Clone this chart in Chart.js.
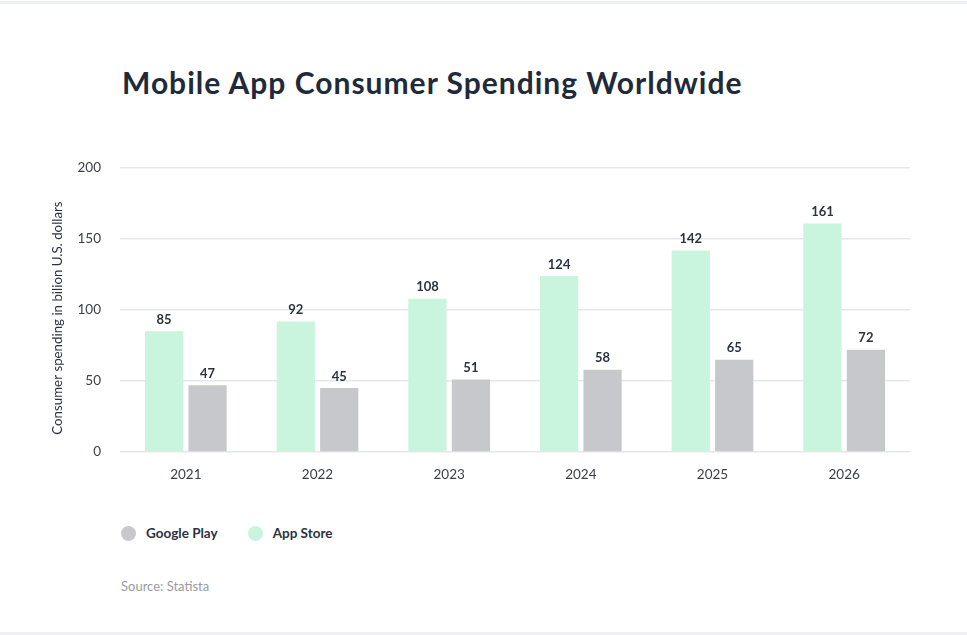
<!DOCTYPE html>
<html>
<head>
<meta charset="utf-8">
<script src="https://cdn.jsdelivr.net/npm/chart.js@4.4.0/dist/chart.umd.min.js"></script>
<style>
  html,body{margin:0;padding:0;background:#fff;}
  body{width:967px;height:635px;position:relative;overflow:hidden;font-family:Lato,"Noto Sans",sans-serif;}
  .topline{position:absolute;left:0;top:1px;width:967px;height:3px;background:#eef0f6;}
  .botline{position:absolute;left:0;top:632px;width:967px;height:3px;background:#eef0f6;}
  h1{position:absolute;left:122px;top:64px;margin:0;font-size:30px;font-weight:700;color:#1f2a3a;letter-spacing:1px;line-height:36px;}
  #wrap{position:absolute;left:0;top:141px;width:967px;height:349px;}
  .legend{position:absolute;top:525px;left:121px;display:flex;align-items:center;font-size:13.5px;font-weight:700;color:#2b3340;}
  .legend .item{display:flex;align-items:center;margin-right:30px;}
  .legend .dot{width:15px;height:15px;border-radius:50%;margin-right:10px;}
  .source{position:absolute;left:121px;top:578px;font-size:13px;color:#9a9ca0;}
</style>
</head>
<body>
<div class="topline"></div>
<h1>Mobile App Consumer Spending Worldwide</h1>
<div id="wrap"><canvas id="c" width="967" height="349"></canvas></div>
<div class="legend" id="legend"></div>
<div class="source">Source: Statista</div>
<div class="botline"></div>
<script>
const categories = ["2021","2022","2023","2024","2025","2026"];
const appStore = [85, 92, 108, 124, 142, 161];
const googlePlay = [47, 45, 51, 58, 65, 72];
const yTicks = [0, 50, 100, 150, 200];
const seriesNames = ["App Store", "Google Play"];
const seriesColors = ["#c9f5de", "#c6c8cb"];
const yTitle = "Consumer spending in bilion U.S. dollars";

// HTML legend (Google Play first, as in reference)
const legend = document.getElementById('legend');
[1,0].forEach(i=>{
  const it = document.createElement('div'); it.className='item';
  const d = document.createElement('span'); d.className='dot'; d.style.background=seriesColors[i];
  const t = document.createElement('span'); t.textContent = seriesNames[i];
  it.appendChild(d); it.appendChild(t); legend.appendChild(it);
});

const FONT = 'Lato, "Noto Sans", sans-serif';

const valueLabels = {
  id:'valueLabels',
  afterDatasetsDraw(chart){
    const ctx = chart.ctx;
    ctx.save();
    ctx.font = '700 13px ' + FONT;
    ctx.fillStyle = '#2b3340';
    ctx.textAlign = 'center';
    ctx.textBaseline = 'bottom';
    chart.data.datasets.forEach((ds, di)=>{
      chart.getDatasetMeta(di).data.forEach((bar, i)=>{
        ctx.fillText(String(ds.data[i]), bar.x, bar.y - 5);
      });
    });
    ctx.restore();
  }
};

const axisTitle = {
  id:'axisTitle',
  afterDraw(chart){
    const ctx = chart.ctx, a = chart.chartArea;
    ctx.save();
    ctx.translate(58, (a.top + a.bottom)/2 + 8);
    ctx.rotate(-Math.PI/2);
    ctx.font = '13.3px ' + FONT;
    ctx.fillStyle = '#2b3340';
    ctx.textAlign = 'center';
    ctx.textBaseline = 'middle';
    ctx.fillText(yTitle, 0, 0);
    ctx.restore();
  }
};

new Chart(document.getElementById('c'), {
  type:'bar',
  data:{
    labels: categories,
    datasets:[
      {label: seriesNames[0], data: appStore, backgroundColor: seriesColors[0]},
      {label: seriesNames[1], data: googlePlay, backgroundColor: seriesColors[1]}
    ]
  },
  options:{
    responsive:false,
    animation:false,
    events:[],
    layout:{padding:{left:0,right:57,top:8,bottom:0}},
    datasets:{bar:{categoryPercentage:0.66, barPercentage:0.88}},
    plugins:{legend:{display:false}, tooltip:{enabled:false}},
    scales:{
      x:{
        grid:{display:false, drawTicks:false},
        border:{display:false},
        ticks:{color:'#3a3f47', font:{family:FONT, size:13.5}, padding:15},
        afterFit(s){ s.height = 38; }
      },
      y:{
        min:0, max:200,
        afterBuildTicks(s){ s.ticks = yTicks.map(v=>({value:v})); },
        grid:{color:'#e6e7e9', lineWidth:1.5, drawTicks:false},
        border:{display:false},
        ticks:{color:'#3a3f47', font:{family:FONT, size:13.5}, padding:19},
        afterFit(s){ s.width = 120; }
      }
    }
  },
  plugins:[valueLabels, axisTitle]
});
</script>
</body>
</html>
